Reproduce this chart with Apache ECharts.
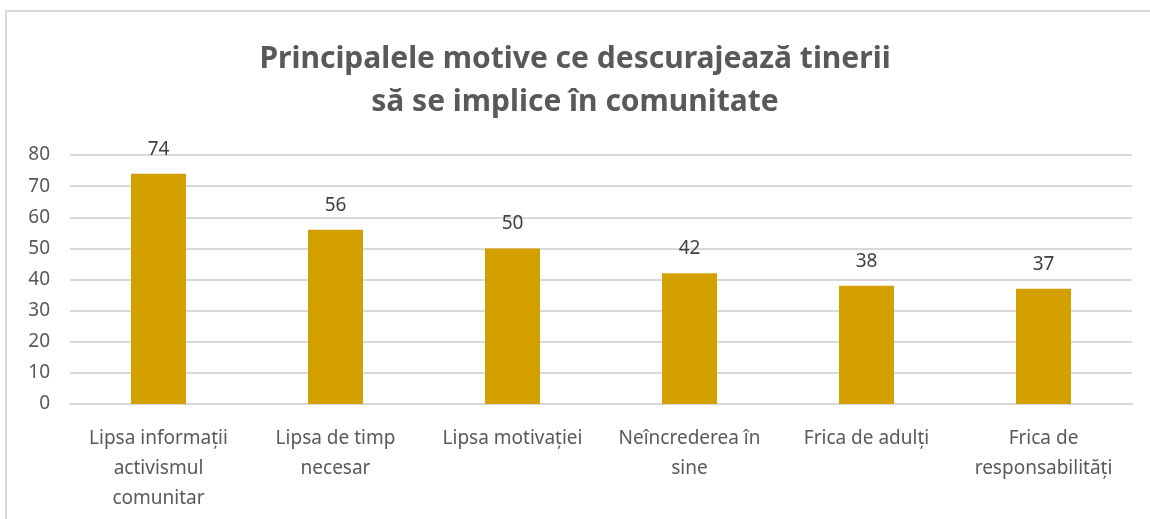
<!DOCTYPE html>
<html>
<head>
<meta charset="utf-8">
<script src="https://cdn.jsdelivr.net/npm/echarts@6/dist/echarts.min.js"></script>
<style>
    html, body { margin: 0; padding: 0; background: #fff; }
    #box {
        position: absolute;
        left: 5px;
        top: 10px;
        width: 1160px;
        height: 530px;
        border: 2px solid #d9d9d9;
        box-sizing: border-box;
    }
    #chart { position: absolute; left: 0; top: 0; width: 1150px; height: 519px; }
</style>
</head>
<body>
<div id="box"></div>
<div id="chart"></div>
<script>
var categories = [
    "Lipsa informații\nactivismul\ncomunitar",
    "Lipsa de timp\nnecesar",
    "Lipsa motivației",
    "Neîncrederea în\nsine",
    "Frica de adulți",
    "Frica de\nresponsabilități"
];
var values = [74, 56, 50, 42, 38, 37];

var font = "'Liberation Sans Narrow', 'Noto Sans', sans-serif";
var chart = echarts.init(document.getElementById("chart"));

var option = {
    animation: false,
    title: {
        text: "Principalele motive ce descurajează tinerii\nsă se implice în comunitate",
        left: "center",
        top: 33,
        textStyle: {
            fontFamily: font,
            fontSize: 30,
            fontWeight: "bold",
            color: "#595959",
            lineHeight: 43
        }
    },
    grid: {
        left: 70,
        right: 18,
        top: 155,
        bottom: 115
    },
    xAxis: {
        type: "category",
        data: categories,
        axisTick: { show: false },
        axisLine: { lineStyle: { color: "#d9d9d9", width: 2 } },
        axisLabel: {
            interval: 0,
            margin: 20,
            fontFamily: font,
            fontSize: 19,
            lineHeight: 30,
            color: "#595959"
        }
    },
    yAxis: {
        type: "value",
        min: 0,
        max: 80,
        interval: 10,
        axisLine: { show: false },
        axisTick: { show: false },
        axisLabel: {
            margin: 20,
            fontFamily: font,
            fontSize: 19,
            color: "#595959"
        },
        splitLine: { lineStyle: { color: "#d9d9d9", width: 2 } }
    },
    series: [
        {
            type: "bar",
            data: values,
            barWidth: 55,
            itemStyle: { color: "#d4a000" },
            label: {
                show: true,
                position: "top",
                distance: 15,
                fontFamily: font,
                fontSize: 19,
                color: "#404040"
            }
        }
    ]
};

chart.setOption(option);
</script>
</body>
</html>
